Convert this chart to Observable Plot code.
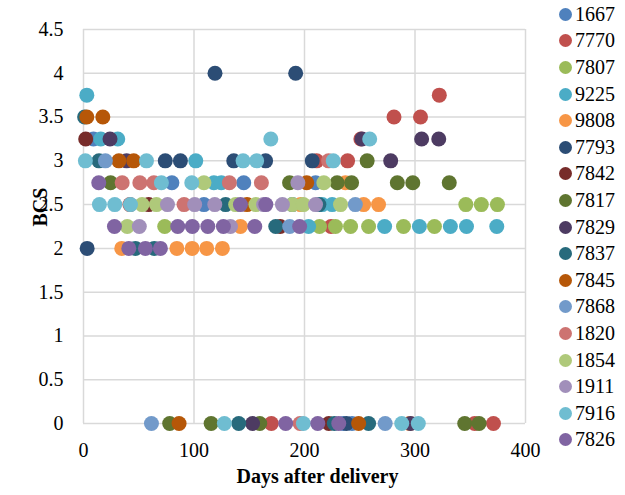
<!DOCTYPE html>
<html>
<head>
<meta charset="utf-8">
<script src="https://cdn.jsdelivr.net/npm/d3@7"></script>
<script src="https://cdn.jsdelivr.net/npm/@observablehq/plot@0.6"></script>
<style>
  html, body { margin: 0; padding: 0; background: #fff; }
  #wrap { position: relative; width: 625px; height: 495px; }
  #wrap svg text { font-family: "Liberation Serif", "Times New Roman", serif; }
  #legend { position: absolute; left: 559px; top: 1px; font-family: "Liberation Serif", "Times New Roman", serif; font-size: 20px; color: #000; }
  .item { height: 26.6px; display: flex; align-items: center; }
  .sw { width: 13px; height: 13px; border-radius: 50%; margin-right: 3px; flex: none; }
</style>
</head>
<body>
<div id="wrap"><div id="legend"></div></div>
<script>
const seriesNames = ["1667","7770","7807","9225","9808","7793","7842","7817","7829","7837","7845","7868","1820","1854","1911","7916","7826"];
const colors = ["#4F81BD","#C0504D","#9BBB59","#4BACC6","#F79646","#2C4D75","#772C2A","#5F7530","#4D3B62","#276A7C","#B65708","#729ACA","#CD7371","#AFC97A","#A18FBA","#6FBDD1","#8064A2"];
const xTicks = [0,100,200,300,400];
const yTicks = [0,0.5,1,1.5,2,2.5,3,3.5,4,4.5];

// [days after delivery, BCS]
const d1667 = [[9,3.25],[80,2.75],[145,2.75],[210,2.75],[109,2.5],[189,2.5],[235,0],[243,0]];
const d7770 = [[322,3.75],[281,3.5],[305,3.5],[251,3.25],[211,3],[239,3],[42,2.5],[224,2.25],[170,0],[354,0],[371,0]];
const d7807 = [[73.5,2.25],[213.6,2.25],[228,2.25],[241.7,2.25],[258,2.25],[289.6,2.25],[317.6,2.25],[346,2.5],[360,2.5],[374.6,2.5]];
const d9225 = [[3,3.75],[15.6,3.25],[31,3.25],[101.6,3],[118,2.75],[124.7,2.75],[216,2.5],[225,2.5],[203.7,2.25],[272.5,2.25],[304,2.25],[332,2.25],[346.6,2.25],[374,2.25]];
const d9808 = [[34.6,2],[84.5,2],[98.3,2],[111.5,2],[125.7,2],[142,2.25],[237,2.75],[196.5,2.5],[253.5,2.5],[267,2.5],[295,0]];
const d7793 = [[119,4],[192,4],[3.3,2],[74,3],[87.7,3],[136,3],[164.8,3],[207,3],[238,0]];
const d7842 = [[2,3.25],[59,2.5],[178,2.25],[222,0]];
const d7817 = [[24.5,2.75],[186.5,2.75],[229.5,2.75],[242.6,2.75],[284,2.75],[298,2.75],[331,2.75],[256.7,3],[78,0],[115.5,0],[159.5,0],[345,0],[358,0]];
const d7829 = [[24,3.25],[39,3],[252,3.25],[306,3.25],[321.5,3.25],[278,3],[153,0],[296,0]];
const d7837 = [[1,3.5],[14,3],[128.6,2.5],[213,2.5],[174,2.25],[47,2],[64,2],[140.5,0],[227,0],[258,0]];
const d7845 = [[3,3.5],[17.5,3.5],[32,3],[45.4,3],[202,2.75],[148,2.5],[86.5,0],[249,0]];
const d7868 = [[19.8,3],[186.6,2.25],[246,2.5],[61.5,0],[273,0]];
const d1820 = [[35,2.75],[51,2.75],[63.7,2.75],[132,2.75],[161,2.75],[91,2.5],[221.8,3],[196,0]];
const d1854 = [[109,2.75],[217.5,2.75],[53,2.5],[66,2.5],[137.7,2.5],[156,2.5],[189,2.5],[199,2.5],[232.6,2.5],[39.6,2.25]];
const d1911 = [[194,2.75],[76,2.5],[100.6,2.5],[118.8,2.5],[163,2.5],[180,2.5],[210,2.5],[50.5,2.25],[133,2.25]];
const d7916 = [[1.7,3],[57,3],[144.4,3],[156.7,3],[226,3],[169.5,3.25],[259,3.25],[70.5,2.75],[98,2.75],[14.4,2.5],[28.3,2.5],[42.5,2.5],[127.5,0],[199,0],[288,0],[303,0]];
const d7826 = [[13.8,2.75],[142,2.5],[165,2.5],[28,2.25],[85.3,2.25],[98.5,2.25],[112.5,2.25],[126.6,2.25],[155,2.25],[195.6,2.25],[41,2],[56,2],[69.6,2],[183,0],[212,0],[231,0]];

const seriesData = [d1667,d7770,d7807,d9225,d9808,d7793,d7842,d7817,d7829,d7837,d7845,d7868,d1820,d1854,d1911,d7916,d7826];
const table = [];
seriesData.forEach((arr, i) => arr.forEach(([day, bcs]) => table.push({series: seriesNames[i], day, bcs})));

const grid = {stroke: "#d9d9d9", strokeOpacity: 1, strokeWidth: 1.5};
const chart = Plot.plot({
  width: 625, height: 495,
  marginLeft: 83, marginRight: 100, marginTop: 29, marginBottom: 72,
  style: {fontFamily: "'Liberation Serif', 'Times New Roman', serif", fontSize: "19px", color: "#000", background: "#fff", overflow: "visible"},
  x: {domain: [0, 400], label: null},
  y: {domain: [0, 4.5], label: null},
  color: {domain: seriesNames, range: colors},
  marks: [
    Plot.gridX(xTicks, grid),
    Plot.gridY(yTicks, grid),
    Plot.axisX(xTicks, {tickSize: 0, tickPadding: 19, label: null, fontSize: 20}),
    Plot.axisY(yTicks, {tickSize: 0, tickPadding: 20, label: null, fontSize: 20, tickFormat: d => String(d)}),
    Plot.dot(table, {x: "day", y: "bcs", fill: "series", r: 7.5, stroke: null}),
    Plot.text(["Days after delivery"], {frameAnchor: "bottom", dx: 13, dy: 59, fontWeight: "bold", fontSize: 20}),
    Plot.text(["BCS"], {frameAnchor: "left", dx: -43, rotate: -90, fontWeight: "bold", fontSize: 20})
  ]
});
document.getElementById("wrap").prepend(chart);

const legend = document.getElementById("legend");
seriesNames.forEach((name, i) => {
  const row = document.createElement("div");
  row.className = "item";
  const sw = document.createElement("span");
  sw.className = "sw";
  sw.style.background = colors[i];
  const t = document.createElement("span");
  t.textContent = name;
  row.appendChild(sw);
  row.appendChild(t);
  legend.appendChild(row);
});
</script>
</body>
</html>
